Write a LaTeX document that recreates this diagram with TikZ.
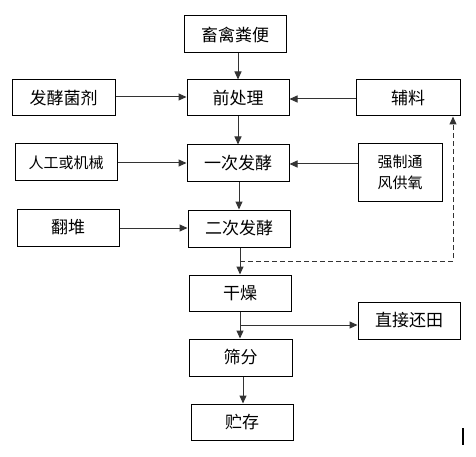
\documentclass[tikz,border=0pt]{standalone}
\usepackage{fontspec}
\newfontfamily\cjk{Noto Sans CJK SC}
\usetikzlibrary{arrows.meta,calc}
\begin{document}
\begin{tikzpicture}[x=1pt,y=-1pt,
  box/.style={draw=black,line width=1pt,minimum width=102pt,minimum height=37pt,inner sep=0pt,font=\cjk\fontsize{17}{19}\selectfont},
  smallbox/.style={box,font=\cjk\fontsize{15}{21}\selectfont},
  arr/.style={draw=black!80,line width=1pt,-{Triangle[length=8pt,width=7pt]}},
  dasharr/.style={arr,dash pattern=on 5pt off 3pt}]
\useasboundingbox (0,0) rectangle (476,457);
\node[box] (xq) at (235,34.5) {畜禽粪便};
\node[box,minimum height=36pt] (qc) at (238,98) {前处理};
\node[box,minimum width=103pt,minimum height=36pt] (fj) at (63.5,98) {发酵菌剂};
\node[box,minimum width=104pt,minimum height=36pt] (fl) at (408,98) {辅料};
\node[smallbox] (rg) at (66,162.5) {人工或机械};
\node[box] (yc) at (238,163.5) {一次发酵};
\node[smallbox,minimum width=84pt,minimum height=57pt,align=center] (qz) at (400,172.5) {强制通\\风供氧};
\node[box] (fd) at (68,227.5) {翻堆};
\node[box] (ec) at (239,228.5) {二次发酵};
\node[box,minimum height=36pt] (gz) at (240,293) {干燥};
\node[box] (zj) at (409,320.5) {直接还田};
\node[box,minimum width=103pt] (sf) at (240.5,357.5) {筛分};
\node[box,minimum height=36pt] (zc) at (242,422) {贮存};
% vertical flow
\draw[arr] (xq.south -| 238,0) -- (qc.north -| 238,0);
\draw[arr] (qc.south) -- (yc.north);
\draw[arr] (yc.south -| 239,0) -- (ec.north -| 239,0);
\draw[arr] (ec.south -| 240,0) -- (gz.north);
\draw[arr] (gz.south) -- (sf.north -| gz.south);
\draw[arr] (sf.south -| 243,0) -- (zc.north -| 243,0);
% side inputs
\draw[arr] (fj.east |- 0,97) -- (qc.west |- 0,97);
\draw[arr] (fl.west |- 0,99) -- (qc.east |- 0,99);
\draw[arr] (rg.east |- 0,163) -- (yc.west |- 0,163);
\draw[arr] (qz.west |- 0,164) -- (yc.east |- 0,164);
\draw[arr] (fd.east |- 0,228) -- (ec.west |- 0,228);
% branches
\coordinate (j1) at (240,261);
\draw[dasharr] (j1) -| ([xshift=45pt]fl.south);
\coordinate (j2) at (240,325);
\draw[arr] (j2) -- (zj.west |- j2);
% stray mark
\coordinate (m1) at (463,428);
\coordinate (m2) at (463,445);
\draw[line width=1.6pt] (m1) -- (m2);
\end{tikzpicture}
\end{document}
